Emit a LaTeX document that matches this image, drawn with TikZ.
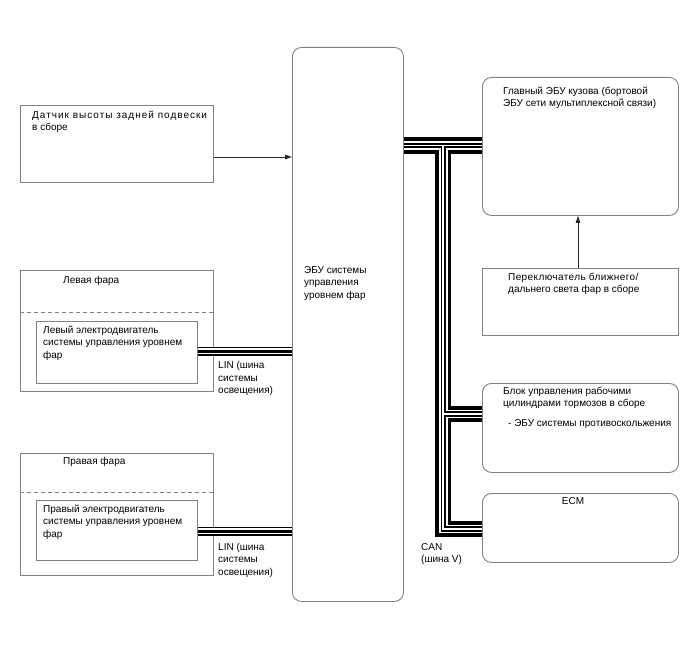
\documentclass[tikz,border=0pt]{standalone}
\usepackage{fontspec}
\setmainfont{Liberation Sans}
\usetikzlibrary{arrows.meta}
\definecolor{boxgray}{HTML}{808080}
\begin{document}
\begin{tikzpicture}[x=1pt,y=-1pt,
  box/.style={draw=boxgray, line width=0.9pt, anchor=north west, inner sep=0pt},
  rbox/.style={box, rounded corners=9pt},
  txt/.style={anchor=north west, inner sep=0pt, align=left, font=\fontsize{10}{12.5}\selectfont},
  thk/.style={line width=3.5pt, black},
  thn/.style={line width=1.2pt, black},
  arr/.style={draw=black!85, line width=0.8pt, -{Triangle[length=7pt,width=4.5pt]}},
  dsh/.style={draw=boxgray, line width=0.8pt, dash pattern=on 4pt off 3pt}]
\useasboundingbox (0,0) rectangle (688,658);
% boxes
\node[box, minimum width=193pt, minimum height=77pt] (sensor) at (20,105) {};
\node[box, minimum width=193pt, minimum height=121pt] (lhl) at (20,270) {};
\node[box, minimum width=161pt, minimum height=62pt] (lmot) at (36,321) {};
\node[box, minimum width=193pt, minimum height=122pt] (rhl) at (20,453) {};
\node[box, minimum width=161pt, minimum height=60pt] (rmot) at (36,500) {};
\node[rbox, minimum width=111pt, minimum height=554pt] (ecu) at (292,47) {};
\node[rbox, minimum width=196pt, minimum height=138pt] (body) at (482,77) {};
\node[box, minimum width=196pt, minimum height=67pt] (sw) at (482,268) {};
\node[rbox, minimum width=196pt, minimum height=89pt] (brake) at (482,383) {};
\node[rbox, minimum width=196pt, minimum height=69pt] (ecm) at (482,493) {};
% dashed separators
\draw[dsh] ([yshift=-42pt]lhl.north west) -- ([yshift=-42pt]lhl.north east);
\draw[dsh] ([yshift=-39pt]rhl.north west) -- ([yshift=-39pt]rhl.north east);
% texts
\node[txt] (tsensor) at (32,110.5) {\addfontfeature{LetterSpace=10}Датчик высоты задней подвески\\в сборе};
\node[txt] (tlhl) at (63,276.5) {Левая фара};
\node[txt] (tlmot) at (43,325.5) {Левый электродвигатель\\системы управления уровнем\\фар};
\node[txt] (tlin1) at (218,361.5) {LIN (шина\\системы\\освещения)};
\node[txt] (trhl) at (63,457.5) {Правая фара};
\node[txt] (trmot) at (43,504.5) {Правый электродвигатель\\системы управления уровнем\\фар};
\node[txt] (tlin2) at (218,543) {LIN (шина\\системы\\освещения)};
\node[txt] (tecu) at (304,266) {ЭБУ системы\\управления\\уровнем фар};
\node[txt] (tbody) at (503,86.5) {Главный ЭБУ кузова (бортовой\\ЭБУ сети мультиплексной связи)};
\node[txt] (tsw) at (508,272.5) {\addfontfeature{LetterSpace=4}Переключатель ближнего/\\дальнего света фар в сборе};
\node[txt] (tbrake) at (503,386.5) {Блок управления рабочими\\цилиндрами тормозов в сборе};
\node[txt] (tabs) at (508,419) {- ЭБУ системы противоскольжения};
\node[txt, anchor=north] (tecm) at (573,497.5) {ECM};
\node[txt] (tcan) at (421,543) {CAN\\(шина V)};
% helper levels
\foreach \v in {139,144,147,152,157,531,535,527,523,408,412,416,420}
  \coordinate (h\v) at (0,\v);
\coordinate (vA) at (437,0);
\coordinate (vB) at (441.5,0);
\coordinate (vC) at (445,0);
\coordinate (vD) at (449.5,0);
% arrows
\draw[arr] (sensor.east |- h157) -- (ecu.west |- h157);
\draw[arr] (sw.north -| 578,0) -- (body.south -| 578,0);
% LIN buses
\foreach \a/\b in {lmot/351, rmot/531}{
  \draw[line width=9pt] (\a.east |- 0,\b) -- (ecu.west |- 0,\b);
  \draw[line width=6.6pt, white] (\a.east |- 0,\b) -- (ecu.west |- 0,\b);
  \draw[line width=3pt] (\a.east |- 0,\b) -- (ecu.west |- 0,\b);
}
% CAN bus
\draw[thk] (ecu.east |- h139) -- (body.west |- h139);
\draw[thn] (ecu.east |- h144) -- (body.west |- h144);
\draw[thn] (ecu.east |- h147) -- (vB |- h147) -- (vB |- h531) -- (ecm.west |- h531);
\draw[thk] (ecu.east |- h152) -- (vA |- h152) -- (vA |- h535) -- (ecm.west |- h535);
\draw[thn] (body.west |- h147) -- (vC |- h147) -- (vC |- h412) -- (brake.west |- h412);
\draw[thk] (body.west |- h152) -- (vD |- h152) -- (vD |- h408) -- (brake.west |- h408);
\draw[thn] (brake.west |- h416) -- (vC |- h416) -- (vC |- h527) -- (ecm.west |- h527);
\draw[thk] (brake.west |- h420) -- (vD |- h420) -- (vD |- h523) -- (ecm.west |- h523);
\end{tikzpicture}
\end{document}
